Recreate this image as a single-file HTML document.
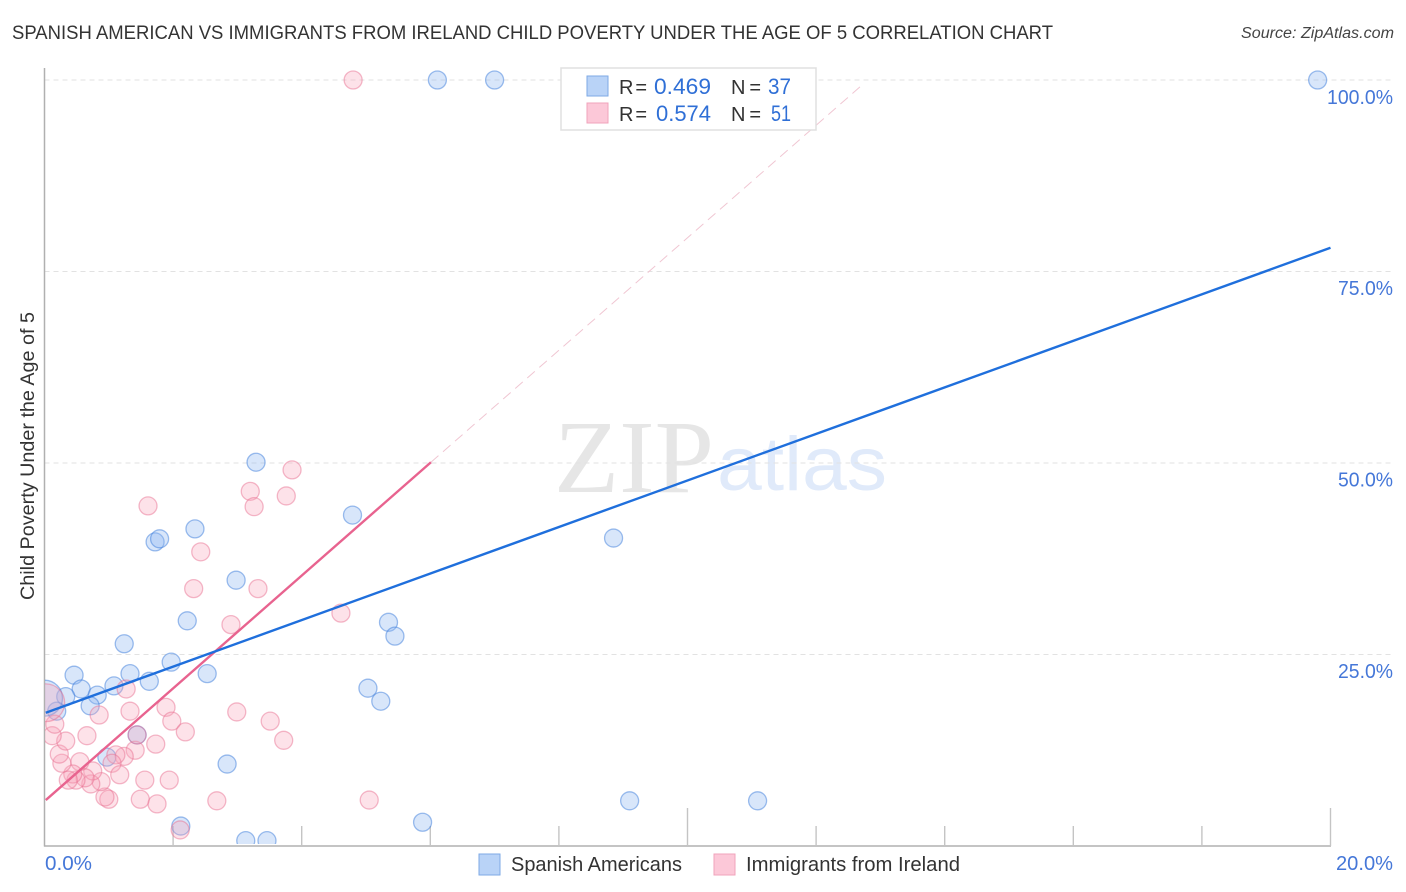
<!DOCTYPE html>
<html lang="en">
<head>
<meta charset="utf-8">
<title>Spanish American vs Immigrants from Ireland Child Poverty Under the Age of 5 Correlation Chart</title>
<style>
html,body{margin:0;padding:0;background:#fff;width:1406px;height:892px;overflow:hidden}
svg{display:block}
text{font-family:"Liberation Sans",sans-serif}
.tick{fill:#4577d8;font-size:20px}
.leg{fill:#333;font-size:20px}
.val{fill:#2f6fd6;font-size:22px}
</style>
</head>
<body>
<svg id="chart" width="1406" height="892" viewBox="0 0 1406 892" xmlns="http://www.w3.org/2000/svg">
  <defs>
    <clipPath id="plot-clip"><rect x="45" y="60" width="1350" height="784"/></clipPath>
  </defs>
  <text x="12" y="39" font-size="19.5" fill="#333" textLength="1041" lengthAdjust="spacingAndGlyphs">SPANISH AMERICAN VS IMMIGRANTS FROM IRELAND CHILD POVERTY UNDER THE AGE OF 5 CORRELATION CHART</text>
  <text x="1241" y="38" font-size="15.5" font-style="italic" fill="#444" textLength="153" lengthAdjust="spacingAndGlyphs">Source: ZipAtlas.com</text>
  <text x="554" y="492" style="font-family:'Liberation Serif',serif" font-size="104" fill="#e6e6e6" textLength="160" lengthAdjust="spacingAndGlyphs">ZIP</text>
  <text x="717" y="490" font-size="76" fill="#e0eafa" textLength="170" lengthAdjust="spacingAndGlyphs">atlas</text>
  <g id="grid"></g>
  <g id="axes"></g>
  <g id="points" clip-path="url(#plot-clip)"></g>
  <g id="lines"></g>
  <g id="labels"></g>
  <text transform="translate(34,456) rotate(-90)" font-size="19" fill="#333" text-anchor="middle" textLength="288" lengthAdjust="spacingAndGlyphs">Child Poverty Under the Age of 5</text>

  <g>
    <rect x="561" y="68" width="255" height="62" fill="#fff" stroke="#e0e0e0" stroke-width="1.5"/>
    <rect x="587" y="76" width="21" height="20" fill="#b9d3f7" stroke="#7eaae6" stroke-width="1"/>
    <rect x="587" y="103" width="21" height="20" fill="#fcc8d8" stroke="#f0a3bb" stroke-width="1"/>
    <text class="leg" x="619" y="94" textLength="28" lengthAdjust="spacing">R =</text>
    <text class="val" x="654" y="94" textLength="57" lengthAdjust="spacingAndGlyphs">0.469</text>
    <text class="leg" x="731" y="94" textLength="30" lengthAdjust="spacing">N =</text>
    <text class="val" x="768" y="94" textLength="23" lengthAdjust="spacingAndGlyphs">37</text>
    <text class="leg" x="619" y="121" textLength="28" lengthAdjust="spacing">R =</text>
    <text class="val" x="656" y="121" textLength="55" lengthAdjust="spacingAndGlyphs">0.574</text>
    <text class="leg" x="731" y="121" textLength="30" lengthAdjust="spacing">N =</text>
    <text class="val" x="771" y="121" textLength="20" lengthAdjust="spacingAndGlyphs">51</text>
  </g>

  <g>
    <rect x="479" y="854" width="21" height="21" fill="#b9d3f7" stroke="#7eaae6" stroke-width="1"/>
    <text x="511" y="871" font-size="20" fill="#333" textLength="171" lengthAdjust="spacingAndGlyphs">Spanish Americans</text>
    <rect x="714" y="854" width="21" height="21" fill="#fcc8d8" stroke="#f0a3bb" stroke-width="1"/>
    <text x="746" y="871" font-size="20" fill="#333" textLength="214" lengthAdjust="spacingAndGlyphs">Immigrants from Ireland</text>
  </g>
</svg>
<script>
const spanishX = [6.11,7.00,19.80,3.29,4.79,2.34,1.72,1.79,8.85,2.98,2.22,5.35,5.45,1.24,1.97,0.46,1.33,2.53,1.63,0.57,1.08,5.03,0.82,0.33,0.71,5.23,0.19,0.00,1.44,0.97,2.84,9.10,11.09,2.12,5.88,3.13,3.46];
const spanishY = [100,100,100,50.1,43.2,41.4,39.7,40.1,40.2,34.7,29.4,29.2,27.4,26.4,24.0,22.3,22.5,22.5,21.5,20.5,20.9,20.6,19.7,19.5,18.3,18.9,17.6,19.3,14.5,11.6,10.7,5.9,5.9,2.6,3.1,0.7,0.7];
const spanishWeight = [1,1,1,1,1,1,1,1,1,1,1,1,1,1,1,1,1,1,1,1,1,1,1,1,1,1,1,4,1,1,1,1,1,1,1,1,1];
const irelandX = [4.80,3.85,3.20,3.76,3.26,1.61,2.43,2.32,3.32,4.61,2.90,1.27,2.99,3.51,3.72,1.89,1.98,2.19,1.33,0.85,0.66,1.73,1.41,1.24,1.11,1.05,1.17,1.56,1.94,2.68,1.49,1.75,1.00,0.94,0.88,0.72,0.75,0.55,0.63,0.49,0.44,0.37,0.27,0.23,0.33,0.12,0.16,0.02,2.11,5.05,1.44];
const irelandY = [100,49.1,46.3,45.7,44.3,44.4,38.4,33.6,33.6,30.4,28.9,20.5,17.5,16.3,13.8,18.1,16.3,14.9,17.6,17.1,14.4,13.3,12.5,11.7,11.9,10.8,9.3,8.6,8.6,5.9,6.1,5.5,6.1,6.4,8.4,8.1,9.8,11.0,8.9,8.6,9.4,8.6,10.8,12.0,13.7,14.4,15.9,18.7,2.1,6.0,14.5];
const irelandWeight = [1,1,1,1,1,1,1,1,1,1,1,1,1,1,1,1,1,1,1,1,1,1,1,1,1,1,1,1,1,1,1,1,1,1,1,1,1,1,1,1,1,1,1,1,1,1,1,4.4,1,1,1];
const spanishTrendX = [0.02,20];
const spanishTrendY = [17.4,78.1];
const irelandTrendX = [0.02,6.01];
const irelandTrendY = [6.0,50.1];
const irelandExtensionX = [6.01,12.71];
const irelandExtensionY = [50.1,99.3];
const yTickValues = [100,75,50,25];
const yTickLabels = ["100.0%","75.0%","50.0%","25.0%"];
const xTickValues = [2,4,6,8,10,12,14,16,18,20];
const xMajorTicks = [10,20];
const xEndValues = [0,20];
const xEndLabels = ["0.0%","20.0%"];

const NS = 'http://www.w3.org/2000/svg';
function sx(v){return 44.5 + v * 64.3;}
function sy(v){return 846 - v * 7.66;}
function make(tag, attrs, parent){
  const el = document.createElementNS(NS, tag);
  for (const k in attrs) el.setAttribute(k, attrs[k]);
  parent.appendChild(el);
  return el;
}
const gridG = document.getElementById('grid');
const axesG = document.getElementById('axes');
const pointsG = document.getElementById('points');
const linesG = document.getElementById('lines');
const labelsG = document.getElementById('labels');

yTickValues.forEach(function(v, i){
  const g = make('line', {x1:44.5, x2:1393, y1:sy(v), y2:sy(v), stroke:'#e2e2e2', 'stroke-width':1, 'stroke-dasharray':'5 4'}, gridG);
  
  
  const t = make('text', {x:1393, y:sy(v) + (v === 100 ? 24 : 23.5), 'text-anchor':'end', class:'tick', textLength: v === 100 ? 66 : 55, lengthAdjust:'spacingAndGlyphs'}, labelsG);
  t.textContent = yTickLabels[i];
  
  
});

const yAxis = make('line', {x1:44.5, x2:44.5, y1:68, y2:846.5, stroke:'#b0b0b0', 'stroke-width':1.5}, axesG);


const xAxis = make('line', {x1:44, x2:1331, y1:846, y2:846, stroke:'#b0b0b0', 'stroke-width':1.5}, axesG);


xTickValues.forEach(function(v){
  const major = xMajorTicks.indexOf(v) >= 0;
  const tick = make('line', {x1:sx(v), x2:sx(v), y1:major ? 808 : 826, y2:846, stroke:'#c4c4c4', 'stroke-width':1.4}, axesG);
  
  
});
xEndValues.forEach(function(v, i){
  const t = make('text', {x: i === 0 ? 45 : 1336, y:870, 'text-anchor':'start', class:'tick', textLength: i === 0 ? 47 : 57, lengthAdjust:'spacingAndGlyphs'}, labelsG);
  t.textContent = xEndLabels[i];
  
  
});

spanishX.forEach(function(v, i){
  const c = make('circle', {cx:sx(v), cy:sy(spanishY[i]), r:9 * Math.sqrt(spanishWeight[i]), fill:'rgba(140,182,240,0.34)', stroke:'rgba(62,125,220,0.5)', 'stroke-width':1.3}, pointsG);
  
  
});
irelandX.forEach(function(v, i){
  const c = make('circle', {cx:sx(v), cy:sy(irelandY[i]), r:9 * Math.sqrt(irelandWeight[i]), fill:'rgba(248,165,188,0.32)', stroke:'rgba(232,110,145,0.48)', 'stroke-width':1.3}, pointsG);
  
  
});

const ext = make('line', {x1:sx(irelandExtensionX[0]), y1:sy(irelandExtensionY[0]), x2:sx(irelandExtensionX[1]), y2:sy(irelandExtensionY[1]), stroke:'#f0c6d2', 'stroke-width':1, 'stroke-dasharray':'10 6'}, linesG);


const pinkLine = make('line', {x1:sx(irelandTrendX[0]), y1:sy(irelandTrendY[0]), x2:sx(irelandTrendX[1]), y2:sy(irelandTrendY[1]), stroke:'#e8638f', 'stroke-width':2.4}, linesG);


const blueLine = make('line', {x1:sx(spanishTrendX[0]), y1:sy(spanishTrendY[0]), x2:sx(spanishTrendX[1]), y2:sy(spanishTrendY[1]), stroke:'#1f6fdc', 'stroke-width':2.4}, linesG);


</script>
</body>
</html>
